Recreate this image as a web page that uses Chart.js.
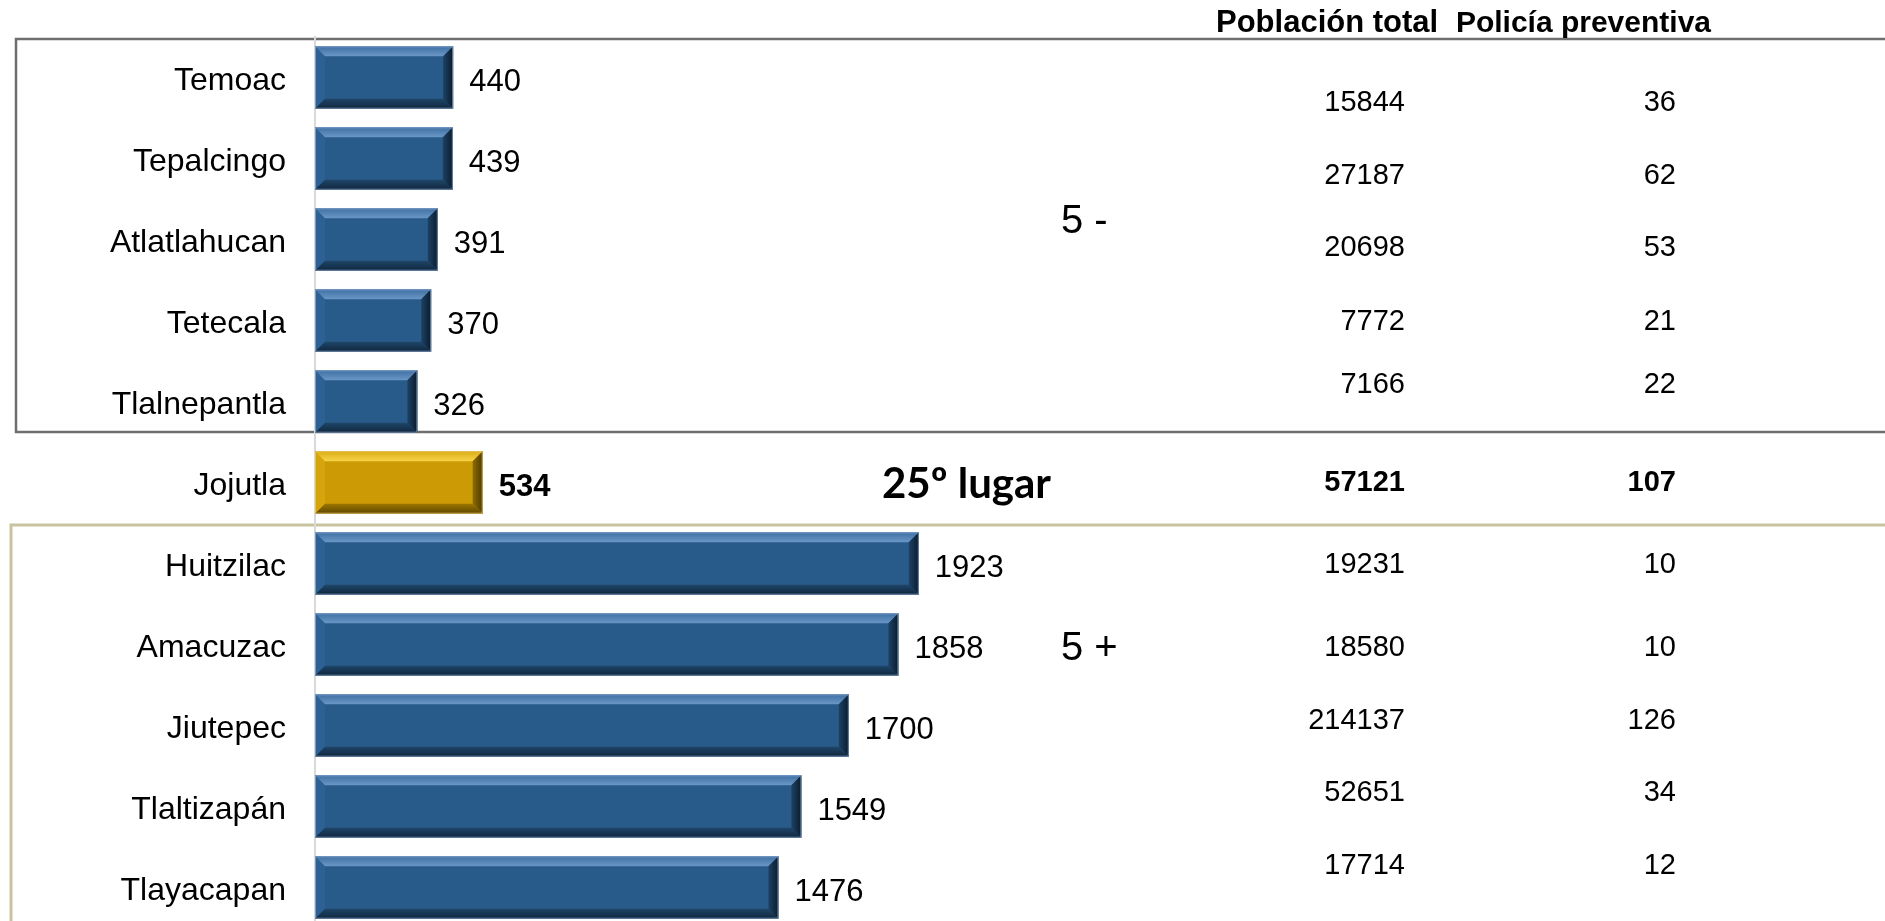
<!DOCTYPE html>
<html><head><meta charset="utf-8">
<script src="https://cdn.jsdelivr.net/npm/chart.js@4/dist/chart.umd.min.js"></script>
<style>html,body{margin:0;padding:0;background:#fff;overflow:hidden}#wrap{width:1885px;height:930px;position:relative}</style>
</head><body><div id="wrap"><canvas id="c" width="1885" height="930"></canvas></div>
<script>
// ---- data ----
const municipios = ['Temoac','Tepalcingo','Atlatlahucan','Tetecala','Tlalnepantla','Jojutla','Huitzilac','Amacuzac','Jiutepec','Tlaltizapán','Tlayacapan'];
const valores = [440,439,391,370,326,534,1923,1858,1700,1549,1476];
const poblacionTotal = [15844,27187,20698,7772,7166,57121,19231,18580,214137,52651,17714];
const policiaPreventiva = [36,62,53,21,22,107,10,10,126,34,12];
const encabezados = ['Población total','Policía preventiva'];
const destacado = 'Jojutla';
const lugarTexto = '25º lugar';
const grupoMenos = '5 -';
const grupoMas = '5 +';

// ---- style / layout ----
const tableShift = [25,17,8,1,-17,0,1,3,-5,-14,-22];
const FONT = '"Liberation Sans", Arial, sans-serif';
const palBlue = {base:'#285a8a', top0:'#3f6fa3', top1:'#6a97c6', bot0:'#1f4669', bot1:'#10263d', r0:'#1d4265', r1:'#0a1b2d', left:'#2d6193', edge:'rgba(150,180,215,0.7)'};
const palGold = {base:'#cc9a04', top0:'#dcac14', top1:'#f7d449', bot0:'#9c7600', bot1:'#5e4600', r0:'#8f6c00', r1:'#4d3a00', left:'#d6a50e', edge:'rgba(230,200,110,0.8)'};
const isHi = m => m === destacado;

function poly(ctx, pts){ctx.beginPath();ctx.moveTo(pts[0][0],pts[0][1]);for(let i=1;i<pts.length;i++)ctx.lineTo(pts[i][0],pts[i][1]);ctx.closePath();}

function drawBevel(ctx, el, p){
  const x0 = Math.min(el.base, el.x), x1 = Math.max(el.base, el.x);
  const y0 = el.y - el.height/2, y1 = el.y + el.height/2;
  const b = Math.min(10, (x1-x0)/2);
  let g;
  ctx.fillStyle = p.left; poly(ctx,[[x0,y0],[x0+b,y0+b],[x0+b,y1-b],[x0,y1]]); ctx.fill();
  g = ctx.createLinearGradient(0,y0,0,y0+b); g.addColorStop(0,p.top0); g.addColorStop(1,p.top1);
  ctx.fillStyle = g; poly(ctx,[[x0,y0],[x1,y0],[x1-b,y0+b],[x0+b,y0+b]]); ctx.fill();
  g = ctx.createLinearGradient(0,y1-b,0,y1); g.addColorStop(0,p.bot0); g.addColorStop(1,p.bot1);
  ctx.fillStyle = g; poly(ctx,[[x0,y1],[x1,y1],[x1-b,y1-b],[x0+b,y1-b]]); ctx.fill();
  g = ctx.createLinearGradient(x1-b,0,x1,0); g.addColorStop(0,p.r0); g.addColorStop(1,p.r1);
  ctx.fillStyle = g; poly(ctx,[[x1,y0],[x1,y1],[x1-b,y1-b],[x1-b,y0+b]]); ctx.fill();
  ctx.strokeStyle = p.edge; ctx.lineWidth = 1;
  ctx.strokeRect(x0+0.5, y0+0.5, x1-x0-1, y1-y0-1);
}

const decor = {
  id:'decor',
  beforeDraw(chart){
    const ctx = chart.ctx;
    ctx.save();
    ctx.fillStyle = '#fff'; ctx.fillRect(0,0,chart.width,chart.height);
    ctx.strokeStyle = '#6e6e6e'; ctx.lineWidth = 2.5;
    ctx.strokeRect(16, 39, 1900, 393);
    ctx.strokeStyle = '#c9c3a0'; ctx.lineWidth = 3;
    ctx.strokeRect(11, 525, 1900, 500);
    ctx.restore();
  },
  afterDatasetsDraw(chart){
    const ctx = chart.ctx;
    const meta = chart.getDatasetMeta(0);
    const ys = chart.scales.y;
    ctx.save();
    meta.data.forEach((el,i)=>{
      const hi = isHi(municipios[i]);
      drawBevel(ctx, el, hi ? palGold : palBlue);
      ctx.fillStyle = '#000';
      ctx.textBaseline = 'middle';
      ctx.textAlign = 'left';
      ctx.font = (hi ? 'bold ' : '') + '31px ' + FONT;
      ctx.fillText(String(valores[i]), Math.max(el.x, el.base) + 16, el.y + 5);
      const ty = el.y + tableShift[i];
      ctx.textAlign = 'right';
      ctx.font = (hi ? 'bold ' : '') + '29px ' + FONT;
      ctx.fillText(String(poblacionTotal[i]), 1405, ty);
      ctx.fillText(String(policiaPreventiva[i]), 1676, ty);
    });
    ctx.textAlign = 'left'; ctx.textBaseline = 'alphabetic';
    ctx.font = 'bold 31px ' + FONT;
    ctx.fillText(encabezados[0], 1216, 32);
    ctx.font = 'bold 30px ' + FONT;
    ctx.textAlign = 'right';
    ctx.fillText(encabezados[1], 1711, 32);
    ctx.textAlign = 'left'; ctx.textBaseline = 'middle';
    ctx.font = '40px ' + FONT;
    ctx.fillText(grupoMenos, 1061, ys.getPixelForValue(2) - 18);
    ctx.fillText(grupoMas, 1061, ys.getPixelForValue(7) + 4);
    ctx.font = 'bold 42px Lato, "Open Sans", sans-serif';
    ctx.fillText(lugarTexto, 882, ys.getPixelForValue(municipios.indexOf(destacado)) + 2);
    ctx.restore();
  }
};

new Chart(document.getElementById('c'), {
  type:'bar',
  data:{
    labels: municipios,
    datasets:[{
      data: valores,
      backgroundColor: municipios.map(m => isHi(m) ? palGold.base : palBlue.base),
      borderWidth:0,
      categoryPercentage:1,
      barPercentage:0.77
    }]
  },
  options:{
    indexAxis:'y',
    responsive:false,
    animation:false,
    devicePixelRatio:1,
    layout:{padding:{top:37,bottom:2,left:0,right:0}},
    plugins:{legend:{display:false},tooltip:{enabled:false},title:{display:false}},
    scales:{
      x:{display:false,min:0,max:5000},
      y:{
        grid:{display:false,drawTicks:false},
        border:{display:true,color:'#d9d9d9',width:2},
        ticks:{color:'#000',padding:29,labelOffset:4,font:{family:FONT,size:32}},
        afterFit(s){ s.width = 315; s.paddingTop = 0; s.paddingBottom = 0; }
      }
    }
  },
  plugins:[decor]
});
</script>
</body></html>
